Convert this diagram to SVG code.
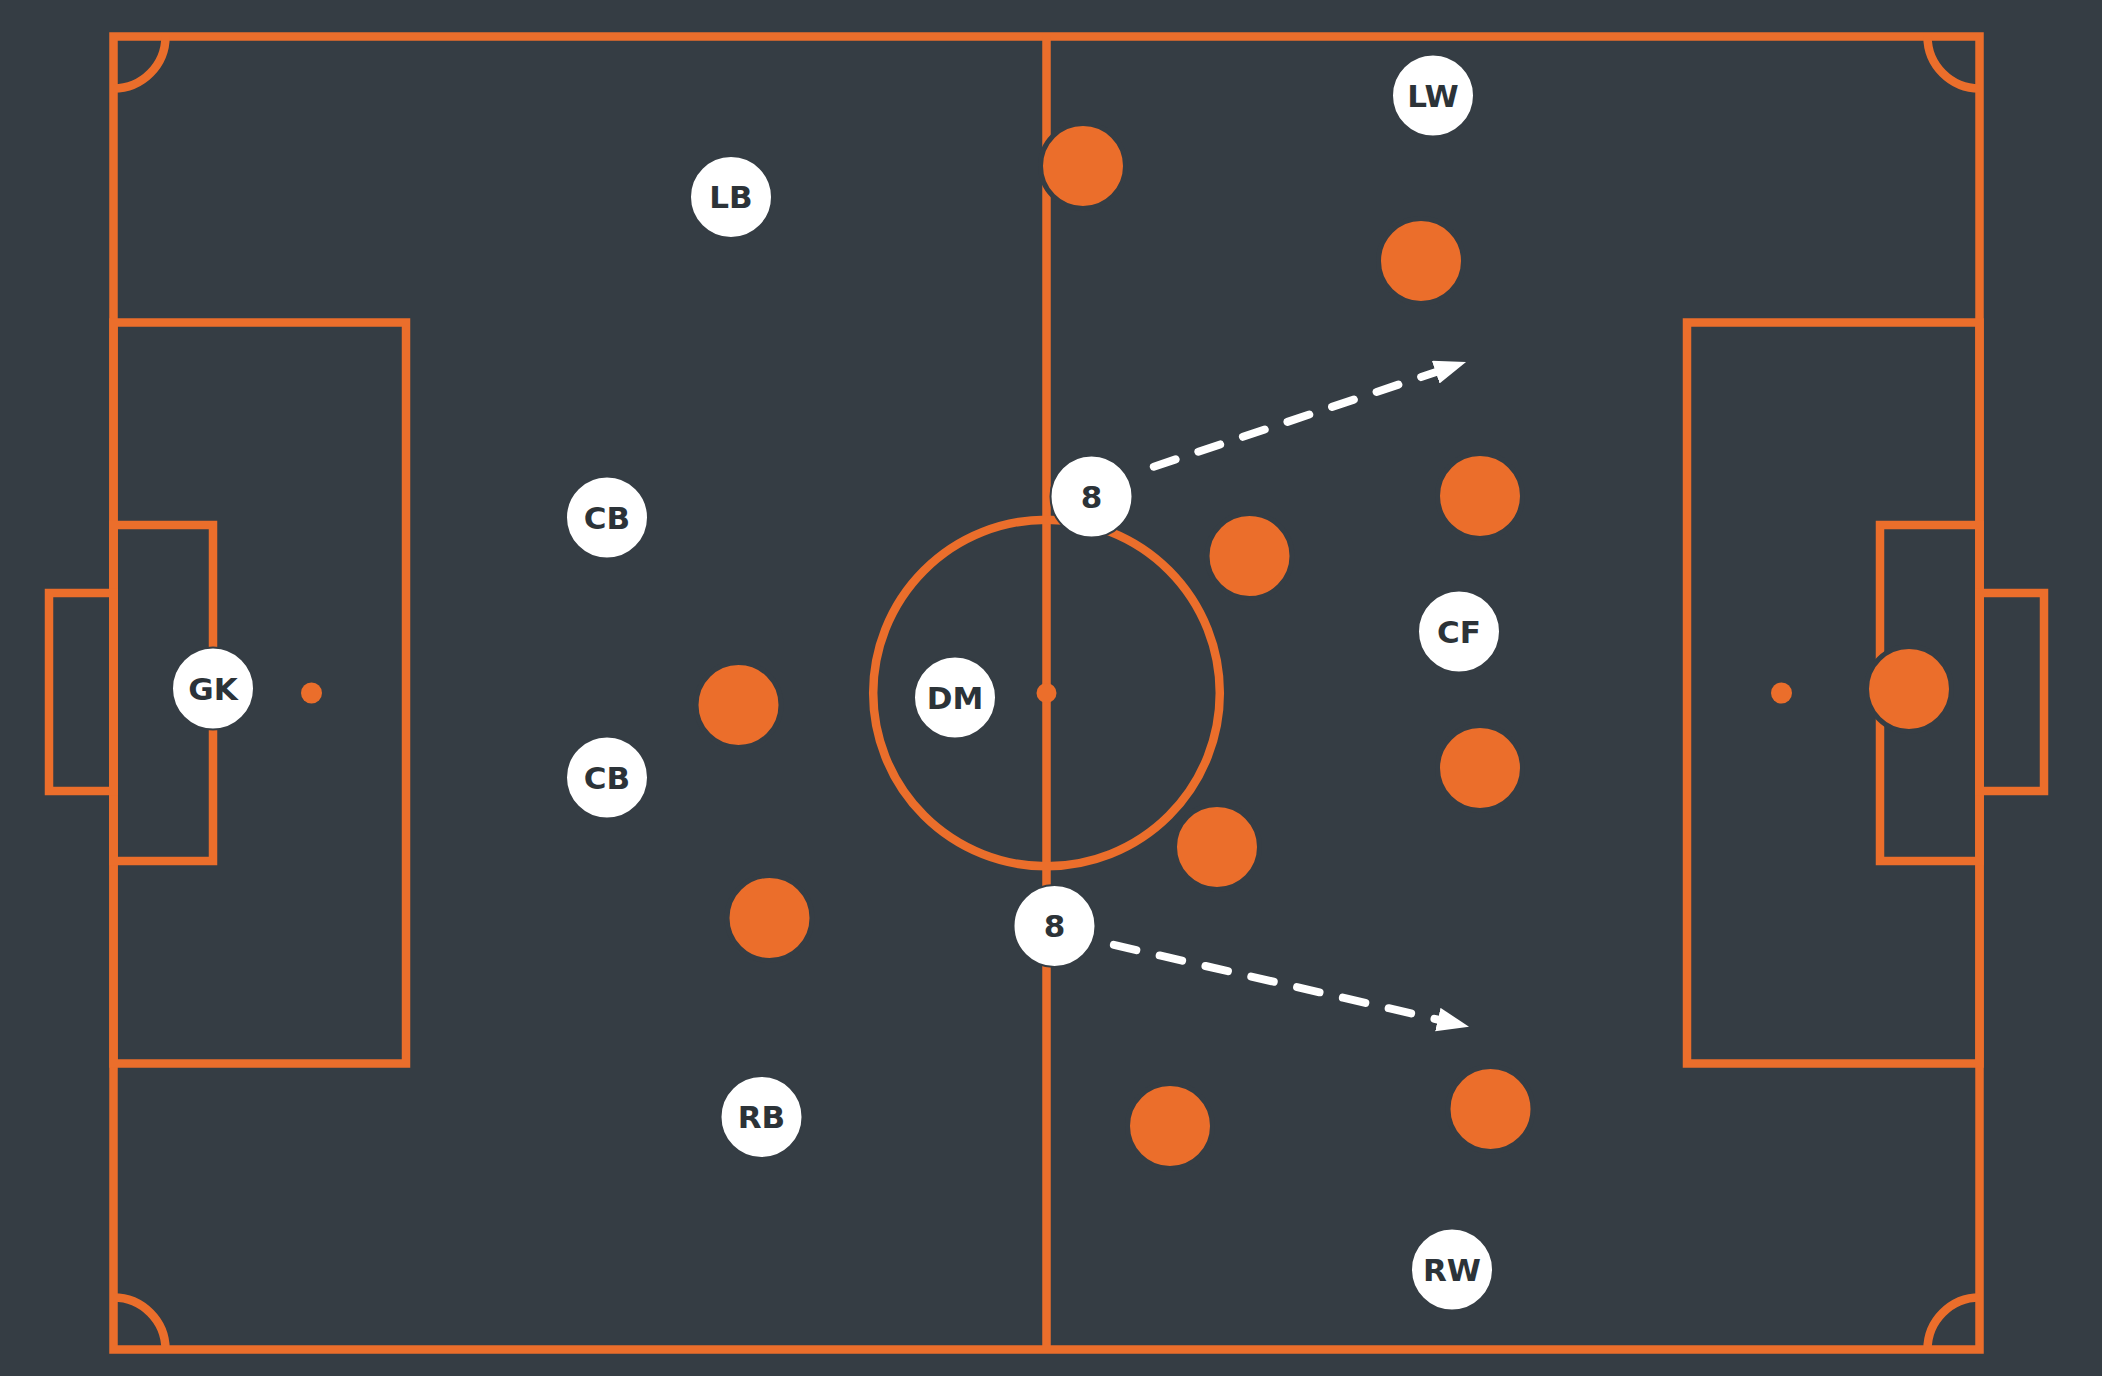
<svg xmlns="http://www.w3.org/2000/svg" width="2102" height="1376" viewBox="0 0 2102 1376">
<defs>
<style>
.ln{fill:none;stroke:#eb6e2b;stroke-width:8.5}
.opp{fill:#eb6e2b;stroke:#353d44;stroke-width:5}
.pl{fill:#ffffff;stroke:#353d44;stroke-width:2}
.lbl{font-family:"DejaVu Sans",sans-serif;font-weight:700;font-size:31px;fill:#2c3338;text-anchor:middle}
.run{fill:none;stroke:#ffffff;stroke-width:8;stroke-linecap:round;stroke-dasharray:23 24}
</style>
<marker id="ah" markerUnits="userSpaceOnUse" markerWidth="34" markerHeight="26" refX="2" refY="12" orient="auto">
<path d="M0,0 L32,12 L0,24 Z" fill="#ffffff"/>
</marker>
</defs>
<rect width="2102" height="1376" fill="#353d44"/>
<g id="pitch">
<rect class="ln" x="113.5" y="36.5" width="1866" height="1313"/>
<line class="ln" x1="1046.5" y1="36.5" x2="1046.5" y2="1349.5"/>
<circle class="ln" cx="1046.5" cy="693" r="173.3"/>
<circle cx="1046.5" cy="693" r="10" fill="#eb6e2b"/>
<rect class="ln" x="113.5" y="322.5" width="292.5" height="741"/>
<rect class="ln" x="113.5" y="525" width="99.5" height="336"/>
<rect class="ln" x="49" y="593" width="64.5" height="198"/>
<circle cx="311.5" cy="693" r="10.5" fill="#eb6e2b"/>
<rect class="ln" x="1687" y="322.5" width="292.5" height="741"/>
<rect class="ln" x="1880" y="525" width="99.5" height="336"/>
<rect class="ln" x="1979.5" y="593" width="64.5" height="198"/>
<circle cx="1781.5" cy="693" r="10.5" fill="#eb6e2b"/>
<path class="ln" d="M113.5,88.5 A52,52 0 0 0 165.5,36.5"/>
<path class="ln" d="M1927.5,36.5 A52,52 0 0 0 1979.5,88.5"/>
<path class="ln" d="M113.5,1297.5 A52,52 0 0 1 165.5,1349.5"/>
<path class="ln" d="M1927.5,1349.5 A52,52 0 0 1 1979.5,1297.5"/>
</g>
<g id="connectors">
<path class="run" d="M1153.8,466.7 L1437.6,371.5" marker-end="url(#ah)"/>
<path class="run" d="M1113.9,944.9 L1439.8,1020" marker-end="url(#ah)"/>
</g>
<g id="opponents">
<circle id="o1" class="opp" cx="1083" cy="166" r="42.5"/>
<circle id="o2" class="opp" cx="1421" cy="261" r="42.5"/>
<circle id="o3" class="opp" cx="1480" cy="496" r="42.5"/>
<circle id="o4" class="opp" cx="1249.5" cy="556" r="42.5"/>
<circle id="o5" class="opp" cx="738.5" cy="705" r="42.5"/>
<circle id="o6" class="opp" cx="1480" cy="768" r="42.5"/>
<circle id="o7" class="opp" cx="1217" cy="847" r="42.5"/>
<circle id="o8" class="opp" cx="769.5" cy="918" r="42.5"/>
<circle id="o9" class="opp" cx="1170" cy="1126" r="42.5"/>
<circle id="o10" class="opp" cx="1490.5" cy="1109" r="42.5"/>
<circle id="o11" class="opp" cx="1909" cy="689" r="42.5"/>
</g>
<g id="p-lw"><circle class="pl" cx="1433" cy="95.5" r="41"/><text class="lbl" x="1433" y="106.5">LW</text></g>
<g id="p-lb"><circle class="pl" cx="731" cy="197" r="41"/><text class="lbl" x="731" y="208">LB</text></g>
<g id="p-cb1"><circle class="pl" cx="607" cy="517.5" r="41"/><text class="lbl" x="607" y="528.5">CB</text></g>
<g id="p-cb2"><circle class="pl" cx="607" cy="777.5" r="41"/><text class="lbl" x="607" y="788.5">CB</text></g>
<g id="p-gk"><circle class="pl" cx="213" cy="688.5" r="41"/><text class="lbl" x="213" y="699.5">GK</text></g>
<g id="p-dm"><circle class="pl" cx="955" cy="697.5" r="41"/><text class="lbl" x="955" y="708.5">DM</text></g>
<g id="p-8a"><circle class="pl" cx="1091.5" cy="496.5" r="41"/><text class="lbl" x="1091.5" y="507.5">8</text></g>
<g id="p-8b"><circle class="pl" cx="1054.5" cy="926" r="41"/><text class="lbl" x="1054.5" y="937">8</text></g>
<g id="p-cf"><circle class="pl" cx="1459" cy="631.5" r="41"/><text class="lbl" x="1459" y="642.5">CF</text></g>
<g id="p-rb"><circle class="pl" cx="761.5" cy="1117" r="41"/><text class="lbl" x="761.5" y="1128">RB</text></g>
<g id="p-rw"><circle class="pl" cx="1452" cy="1269.5" r="41"/><text class="lbl" x="1452" y="1280.5">RW</text></g>
</svg>
